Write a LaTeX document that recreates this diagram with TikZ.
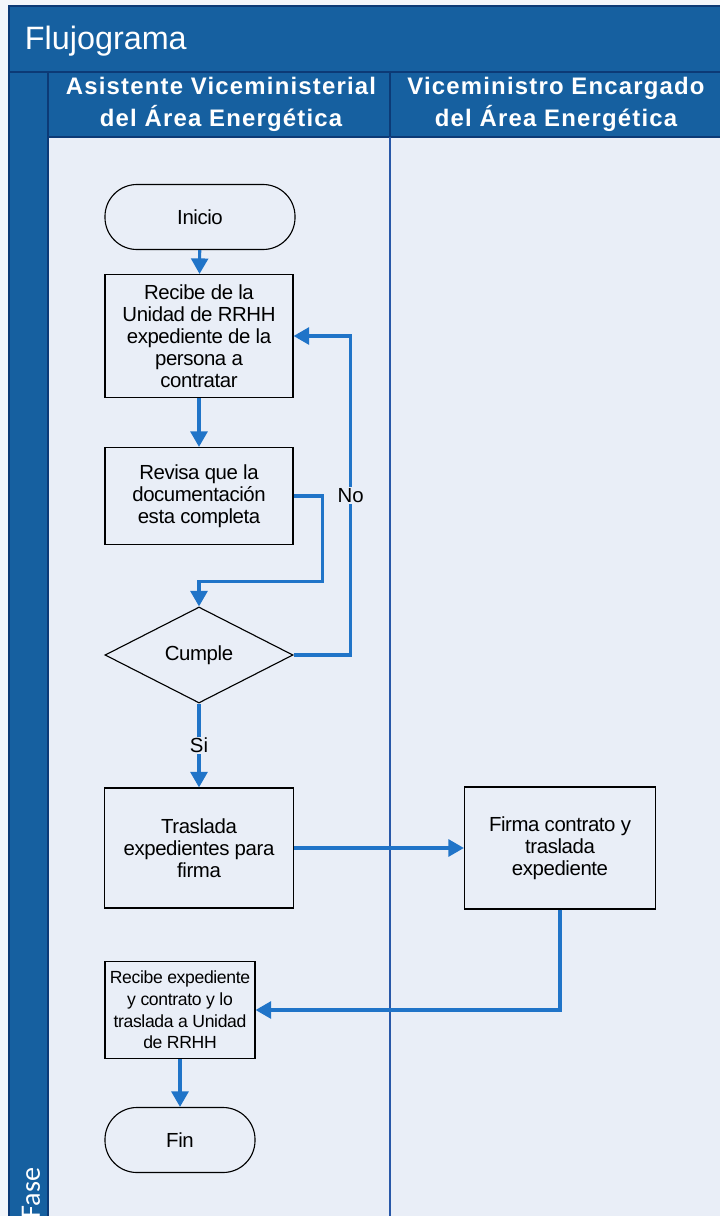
\documentclass[tikz,border=0pt]{standalone}
\usepackage{fontspec}
\setmainfont{Liberation Sans}
\newfontfamily\headfont{Liberation Sans}[LetterSpace=5]
\newfontfamily\boxfont{Liberation Sans}[LetterSpace=-2]
\newfontfamily\fasefont{Carlito}
\usetikzlibrary{arrows.meta, positioning, shapes.geometric, calc}

\definecolor{barblue}{RGB}{22,96,160}
\definecolor{edgeblue}{RGB}{12,58,118}
\definecolor{lanebg}{RGB}{233,238,247}
\definecolor{flowblue}{RGB}{32,116,200}
\definecolor{laneline}{RGB}{40,88,168}

\begin{document}
\begin{tikzpicture}[x=0.025cm, y=-0.025cm,
    proc/.style={rectangle, draw, line width=0.8pt, fill=lanebg, align=center,
      inner sep=2pt, font=\boxfont\fontsize{14.5}{15.6}\selectfont},
    term/.style={proc, rounded corners=0.8cm},
    decision/.style={proc, diamond, inner sep=0pt},
    flow/.style={draw=flowblue, line width=2.2pt, -{Triangle[length=11pt, width=12pt]}},
    lbl/.style={fill=lanebg, inner sep=1pt, font=\fontsize{14.5}{15}\selectfont},
    lanehead/.style={text=white, align=center, font=\headfont\bfseries\fontsize{17}{22.7}\selectfont}]
    \useasboundingbox (0,0) rectangle (720,1216);

    % frame and swimlanes
    \fill[lanebg!55!white] (0,0) rectangle (720,1216);
    \fill[lanebg] (48,137) rectangle (720,1216);
    \fill[barblue] (9,6) rectangle (720,137);
    \fill[barblue] (9,137) rectangle (48,1216);
    \draw[edgeblue, line width=1pt] (9,1216) -- (9,6) -- (720,6);
    \draw[edgeblue, line width=1pt] (9,72) -- (720,72);
    \draw[edgeblue, line width=1pt] (48,72) -- (48,1216);
    \draw[edgeblue, line width=1pt] (48,137) -- (720,137);
    \draw[edgeblue, line width=1pt] (390,72) -- (390,137);
    \draw[laneline, line width=1.5pt] (390,137) -- (390,1216);

    \node[anchor=west, text=white, font=\fontsize{23}{26}\selectfont] (title) at (20,41) {Flujograma};
    \node[lanehead] (lane1) at (221,104) {Asistente Viceministerial\\del Área Energética};
    \node[lanehead] (lane2) at (556,104) {Viceministro Encargado\\del Área Energética};
    \node[rotate=90, text=white, font=\fasefont\fontsize{20}{24}\selectfont] (fase) at (31,1193) {Fase};

    % steps
    \node[term, minimum width=4.75cm, minimum height=1.625cm] (ini) at (200,217) {Inicio};
    \node[proc, minimum width=4.7cm, minimum height=3.075cm] (rec) at (199,336) {Recibe de la\\Unidad de RRHH\\expediente de la\\persona a\\contratar};
    \node[proc, minimum width=4.7cm, minimum height=2.425cm] (rev) at (199,496) {Revisa que la\\documentación\\esta completa};
    \node[decision, minimum width=4.7cm, minimum height=2.4cm] (cum) at (199,655) {Cumple};
    \node[proc, minimum width=4.725cm, minimum height=3cm] (tra) at (199,848) {Traslada\\expedientes para\\firma};
    \node[proc, minimum width=4.775cm, minimum height=3.05cm] (fir) at (560,848) {Firma contrato y\\traslada\\expediente};
    \node[proc, minimum width=3.75cm, minimum height=2.425cm, font=\boxfont\fontsize{12.5}{15.4}\selectfont] (rex) at (180,1010) {Recibe expediente\\y contrato y lo\\traslada a Unidad\\de RRHH};
    \node[term, minimum width=3.75cm, minimum height=1.625cm] (fin) at (180,1140) {Fin};

    \draw[flow] (ini) -- (rec);
    \draw[flow] (rec) -- (rev);
    \draw[flow] (rev.east) -- ++(29,0) |- ($(cum.north)+(0,-25)$) -- (cum.north);
    \draw[flow] (cum.east) -- ++(57,0) |- node[lbl, pos=0.25] {No} (rec.east);
    \draw[flow] (cum) -- node[lbl] {Si} (tra);
    \draw[flow] (tra.east) -- (tra.east -| fir.west);
    \draw[flow] (fir.south) |- (rex.east);
    \draw[flow] (rex) -- (fin);
\end{tikzpicture}
\end{document}
